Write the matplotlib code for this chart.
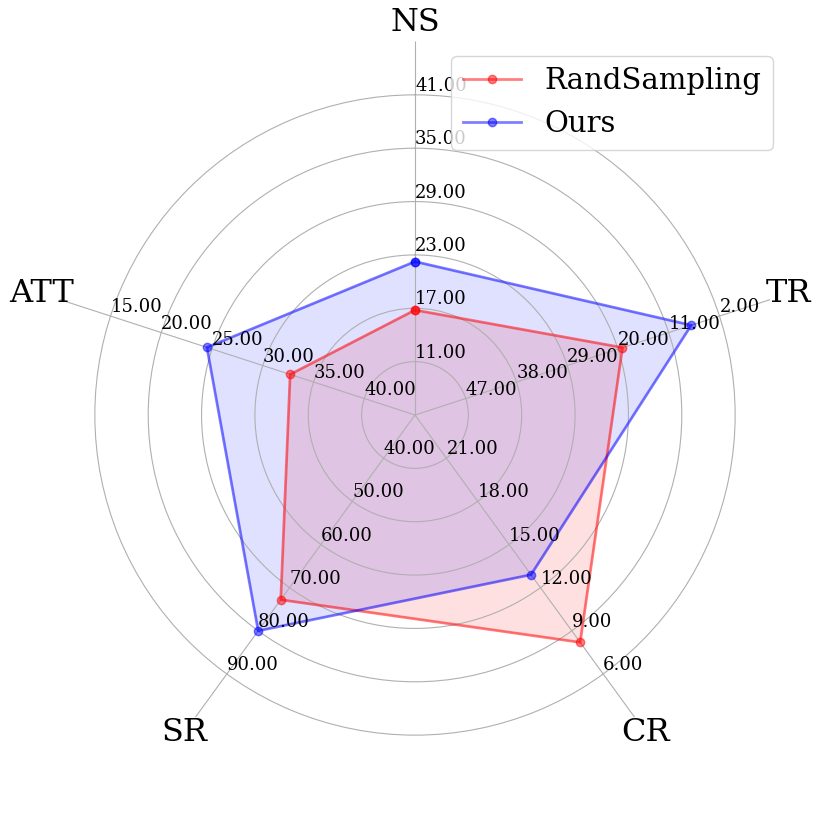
import numpy as np
import matplotlib
matplotlib.use('Agg')
import matplotlib.pyplot as plt

plt.rcParams['font.family'] = 'DejaVu Serif'

variables = ['NS', 'TR', 'CR', 'SR', 'ATT']
# value at the centre and the step between two rings, one per axis
origins = [5, 56, 24, 30, 45]
steps = [6, -9, -3, 10, -5]
n_levels = 6

rand_sampling = [16.8, 19.2, 8.2, 72.8, 32.7]
ours = [22.25, 7.0, 12.9, 80.0, 24.5]


def scale(values):
    # map every value onto the ring scale of the first axis
    return [(v - o) / s for v, o, s in zip(values, origins, steps)]


fig = plt.figure(figsize=(8.3, 8.3), dpi=100)
angles = np.arange(0, 360, 360 / len(variables))
axes = [fig.add_axes([0.05, 0.05, 0.9, 0.9], polar=True, label='ax{}'.format(i))
        for i in range(len(variables))]

for i, ax in enumerate(axes):
    ax.set_theta_offset(np.pi / 2)
    ax.set_theta_direction(-1)
    ax.spines['polar'].set_visible(False)
    levels = np.arange(1, n_levels + 1)
    labels = ['{:.2f}'.format(origins[i] + steps[i] * k) for k in levels]
    ax.set_rgrids(levels, labels=labels, angle=angles[i], fontsize=13)
    ax.set_ylim(0, n_levels + 1)
    if i > 0:
        ax.patch.set_visible(False)
        ax.yaxis.grid(False)
        ax.xaxis.set_visible(False)

ax = axes[0]
ax.set_thetagrids(angles, labels=variables, fontsize=23)

theta = np.deg2rad(np.append(angles, angles[0]))
for name, vals, col in [('RandSampling', rand_sampling, 'red'), ('Ours', ours, 'blue')]:
    r = scale(vals)
    r = r + r[:1]
    ax.plot(theta, r, 'o-', color=col, alpha=0.5, linewidth=2, label=name)
    ax.fill(theta, r, color=col, alpha=0.12)

ax.legend(loc='upper right', bbox_to_anchor=(773 / 830, 1 - 55.7 / 830),
          bbox_transform=fig.transFigure, borderaxespad=0, fontsize=21)

fig.savefig('out.png', dpi=100)
